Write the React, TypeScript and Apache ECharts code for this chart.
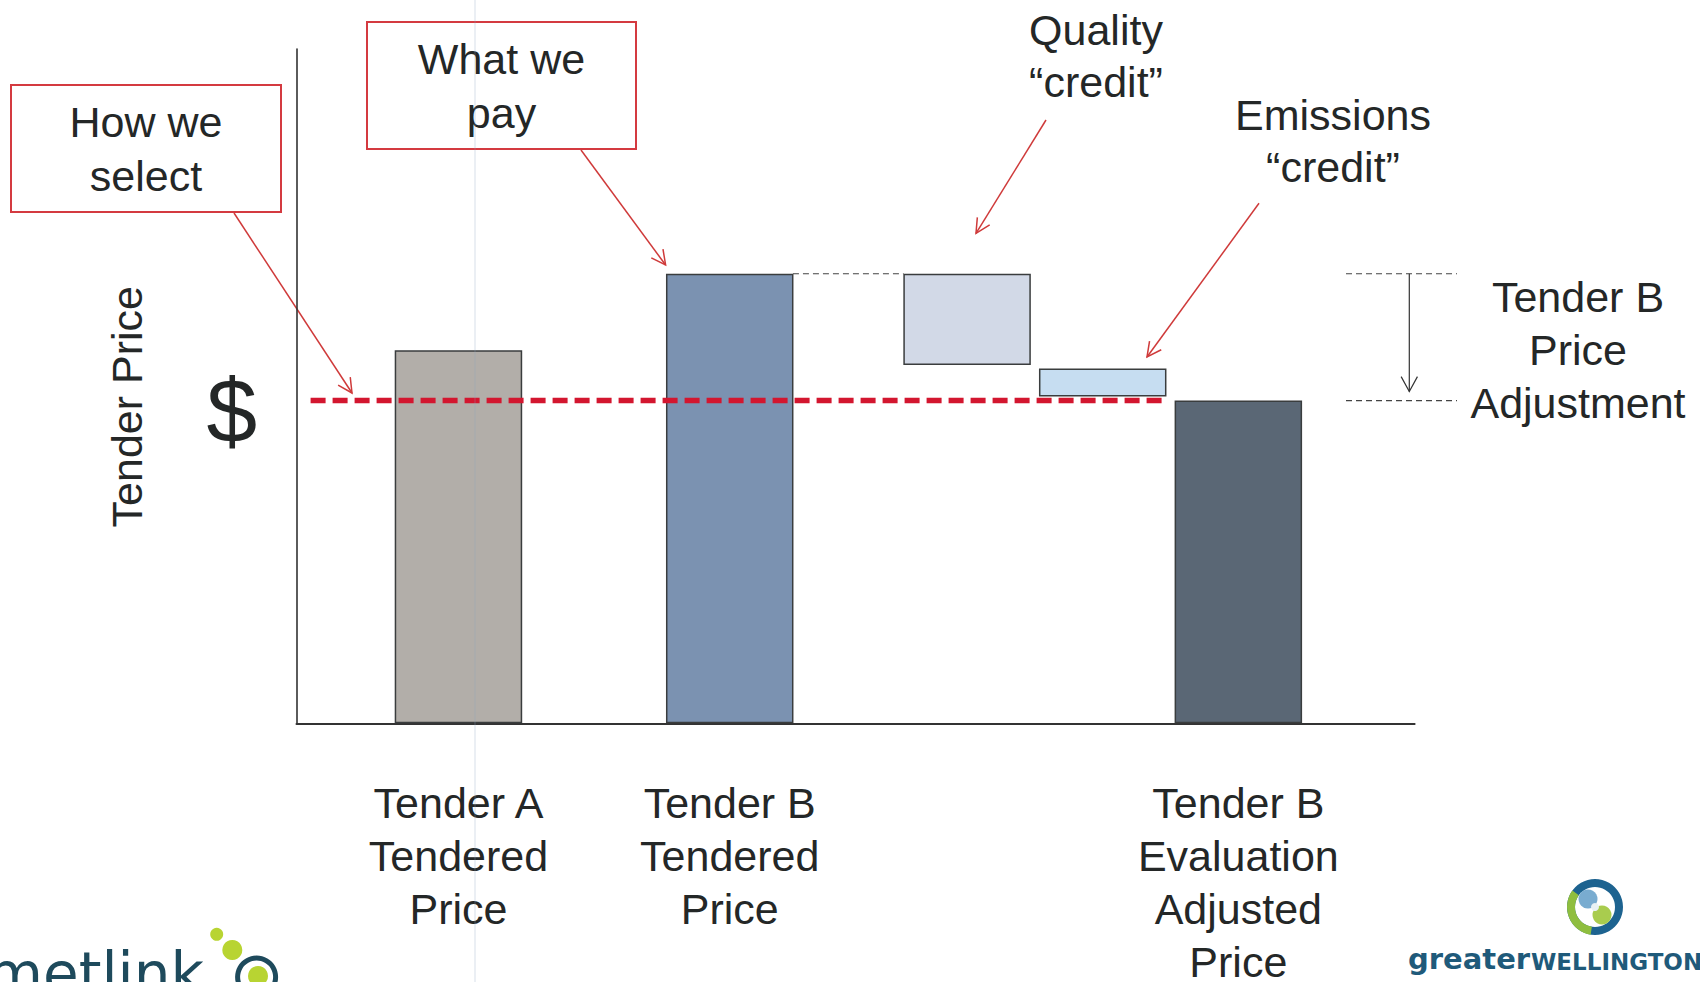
import React, { useEffect, useRef } from 'react';
import * as echarts from 'echarts';

// Waterfall columns, left to right.
const columns = [
  'Tender A\nTendered\nPrice',
  'Tender B\nTendered\nPrice',
  'Quality credit',
  'Emissions credit',
  'Tender B\nEvaluation\nAdjusted\nPrice',
];
// Bottom and top of each column, in price units.
const columnLow = [0, 0, 79.7, 72.7, 0];
const columnHigh = [83, 100, 100, 78.9, 71.8];

const tenderedB = columnHigh[1];
const evaluatedB = columnHigh[4];
const priceAxisMax = 150;

// ---- layout & styling ----
// The column grid is cut into narrow category slots; each column sits in one.
const SLOT_COUNT = 24;
const COLUMN_SLOT = [0, 8, 15, 19, 23];
const FILLS = ['#b2aea9', '#7b92b1', '#d2d9e7', '#c6ddf1', '#5a6775'];
const BORDER = '#3a3d3e';
const INK = '#242727';
const RED = '#d3162f';
const CALLOUT = '#d43a40';
const ARROW_RED = '#cf3a3a';
const FONT = "'Liberation Sans', Arial, Helvetica, sans-serif";

const FRAME = { left: 296.5, right: 285.4, top: 49, bottom: 258.7 };
const COLS = { left: 441.5, width: 813.8, top: 49, bottom: 258.7 };

function arrow(
  x1: number, y1: number, x2: number, y2: number,
  color: string, width: number, len = 16, spread = 0.47,
) {
  const a = Math.atan2(y2 - y1, x2 - x1);
  const p1 = [x2 - len * Math.cos(a - spread), y2 - len * Math.sin(a - spread)];
  const p2 = [x2 - len * Math.cos(a + spread), y2 - len * Math.sin(a + spread)];
  return [
    { type: 'line', shape: { x1, y1, x2, y2 }, style: { stroke: color, lineWidth: width } },
    {
      type: 'polyline',
      shape: { points: [p1, [x2, y2], p2] },
      style: { stroke: color, lineWidth: width, fill: 'none' },
    },
  ];
}

function label(text: string, x: number, y: number, size = 43, lineHeight = 53, extra: any = {}) {
  return {
    type: 'text',
    x,
    y,
    ...extra,
    style: {
      text,
      fill: INK,
      fontSize: size,
      fontFamily: FONT,
      lineHeight,
      align: 'center',
      verticalAlign: 'middle',
    },
  };
}

function staticGraphics(): any[] {
  return [
    // callout boxes
    {
      type: 'rect',
      shape: { x: 11, y: 85, width: 270, height: 127 },
      style: { stroke: CALLOUT, lineWidth: 2, fill: 'none' },
    },
    {
      type: 'rect',
      shape: { x: 367, y: 22, width: 269, height: 127 },
      style: { stroke: CALLOUT, lineWidth: 2, fill: 'none' },
    },
    label('How we\nselect', 146, 148.5, 43, 54),
    label('What we\npay', 501.5, 85.5, 43, 54),
    label('Quality\n\u201Ccredit\u201D', 1096, 56, 43, 52),
    label('Emissions\n\u201Ccredit\u201D', 1333, 141, 43, 52),
    label('Tender B\nPrice\nAdjustment', 1578, 350, 43, 53),
    label('Tender Price', 126.8, 406.7, 43, 50, { rotation: Math.PI / 2 }),
    label('$', 231.7, 410, 91, 100),
    // callout arrows
    ...arrow(234, 213, 352, 393, ARROW_RED, 1.5),
    ...arrow(581, 150, 665.6, 265, ARROW_RED, 1.5),
    ...arrow(1046, 120, 976, 233.3, ARROW_RED, 1.5),
    ...arrow(1259, 203.3, 1147, 357, ARROW_RED, 1.5),
    // metlink mark
    {
      type: 'text',
      x: 204,
      y: 974,
      style: {
        text: 'metlink',
        fill: '#1e4a5c',
        fontSize: 58,
        fontFamily: "'DejaVu Sans', sans-serif",
        align: 'right',
        verticalAlign: 'middle',
      },
    },
    { type: 'circle', shape: { cx: 216.7, cy: 934.3, r: 6.5 }, style: { fill: '#b8d432' } },
    { type: 'circle', shape: { cx: 232.3, cy: 950, r: 10 }, style: { fill: '#b8d432' } },
    { type: 'ring', shape: { cx: 256.6, cy: 977, r: 21.5, r0: 16.5 }, style: { fill: '#1e4a5c' } },
    { type: 'circle', shape: { cx: 258, cy: 976, r: 10 }, style: { fill: '#b8d432' } },
    // greater wellington mark
    { type: 'ring', shape: { cx: 1595, cy: 907, r: 28, r0: 20 }, style: { fill: '#1d6390' } },
    {
      type: 'sector',
      shape: { cx: 1595, cy: 907, r: 28, r0: 20, startAngle: 0.55 * Math.PI, endAngle: 1.2 * Math.PI },
      style: { fill: '#8fbe3f' },
    },
    { type: 'circle', shape: { cx: 1588, cy: 899, r: 9.5 }, style: { fill: '#79acd0' } },
    { type: 'circle', shape: { cx: 1602, cy: 915, r: 9.5 }, style: { fill: '#a9cc4e' } },
    { type: 'circle', shape: { cx: 1595, cy: 907, r: 4 }, style: { fill: '#e9f1f4' } },
    {
      type: 'text',
      x: 1408,
      y: 973,
      style: {
        text: 'greater',
        fill: '#1f5a7a',
        fontSize: 29,
        fontWeight: 'bold',
        fontFamily: "'DejaVu Sans', sans-serif",
        align: 'left',
        verticalAlign: 'bottom',
      },
    },
    {
      type: 'text',
      x: 1531,
      y: 973,
      style: {
        text: 'WELLINGTON',
        fill: '#1f5a7a',
        fontSize: 23,
        fontWeight: 'bold',
        fontFamily: "'DejaVu Sans', sans-serif",
        align: 'left',
        verticalAlign: 'bottom',
      },
    },
    // faint vertical rule across the page
    {
      type: 'line',
      z: 100,
      shape: { x1: 475, y1: 0, x2: 475, y2: 982 },
      style: { stroke: 'rgba(140,160,190,0.35)', lineWidth: 1 },
    },
  ];
}

function buildOption(): any {
  // Spread the columns over the slot grid; unused slots stay empty.
  const slotNames: string[] = Array.from({ length: SLOT_COUNT }, () => '');
  const base: any[] = Array.from({ length: SLOT_COUNT }, () => '-');
  const span: any[] = Array.from({ length: SLOT_COUNT }, () => '-');
  columns.forEach((name, i) => {
    const s = COLUMN_SLOT[i];
    slotNames[s] = name;
    base[s] = columnLow[i];
    span[s] = {
      value: +(columnHigh[i] - columnLow[i]).toFixed(2),
      itemStyle: { color: FILLS[i], borderColor: BORDER, borderWidth: 1.5 },
    };
  });

  const guideStyle = { color: '#444', width: 1.2, type: [6, 4] };

  return {
    animation: false,
    backgroundColor: '#ffffff',
    grid: [
      { ...FRAME, containLabel: false, outerBoundsMode: 'none' },
      { ...COLS, containLabel: false, outerBoundsMode: 'none' },
    ],
    xAxis: [
      {
        gridIndex: 0,
        type: 'value',
        min: 0,
        max: 100,
        axisLine: { show: true, lineStyle: { color: '#333', width: 2 } },
        axisTick: { show: false },
        axisLabel: { show: false },
        splitLine: { show: false },
      },
      {
        gridIndex: 1,
        type: 'category',
        data: slotNames,
        axisLine: { show: false },
        axisTick: { show: false },
        splitLine: { show: false },
        axisLabel: {
          interval: 0,
          margin: 53,
          color: INK,
          fontSize: 43,
          lineHeight: 53,
          fontFamily: FONT,
          align: 'center',
          formatter: (v: string) => (v.includes('credit') ? '' : v),
        },
      },
    ],
    yAxis: [
      {
        gridIndex: 0,
        type: 'value',
        min: 0,
        max: priceAxisMax,
        axisLine: { show: true, lineStyle: { color: '#333', width: 1.6 } },
        axisTick: { show: false },
        axisLabel: { show: false },
        splitLine: { show: false },
      },
      {
        gridIndex: 1,
        type: 'value',
        min: 0,
        max: priceAxisMax,
        show: false,
        splitLine: { show: false },
      },
    ],
    series: [
      {
        name: 'base',
        type: 'bar',
        xAxisIndex: 1,
        yAxisIndex: 1,
        stack: 'waterfall',
        barWidth: 127.5,
        clip: false,
        silent: true,
        itemStyle: { color: 'rgba(0,0,0,0)', borderWidth: 0 },
        data: base,
      },
      {
        name: 'price',
        type: 'bar',
        xAxisIndex: 1,
        yAxisIndex: 1,
        stack: 'waterfall',
        barWidth: 127.5,
        clip: false,
        data: span,
      },
      {
        name: 'selection level',
        type: 'line',
        xAxisIndex: 0,
        yAxisIndex: 0,
        z: 5,
        symbol: 'none',
        lineStyle: { color: RED, width: 5.5, type: [15, 7] },
        data: [[1.26, evaluatedB], [77.86, evaluatedB]],
      },
      {
        name: 'tendered B connector',
        type: 'line',
        xAxisIndex: 0,
        yAxisIndex: 0,
        symbol: 'none',
        lineStyle: guideStyle,
        data: [[44.4, tenderedB], [54.3, tenderedB]],
      },
    ],
    graphic: staticGraphics(),
  };
}

export default function App() {
  const ref = useRef<HTMLDivElement>(null);
  useEffect(() => {
    if (!ref.current) return;
    const chart = echarts.init(ref.current, undefined, { renderer: 'svg' });
    chart.setOption(buildOption());

    // Price adjustment bracket to the right of the plot, placed on the price scale.
    const yTop = chart.convertToPixel({ gridIndex: 0 }, [0, tenderedB])[1];
    const yLow = chart.convertToPixel({ gridIndex: 0 }, [0, evaluatedB])[1];
    const dash = { stroke: '#444', lineWidth: 1.2, lineDash: [6, 4] };
    chart.setOption({
      graphic: [
        ...staticGraphics(),
        { type: 'line', shape: { x1: 1346, y1: yTop, x2: 1457, y2: yTop }, style: dash },
        { type: 'line', shape: { x1: 1346, y1: yLow, x2: 1457, y2: yLow }, style: dash },
        ...arrow(1409.3, yTop, 1409.3, yLow - 9, '#333', 1.2, 17, 0.5),
      ],
    });
    return () => chart.dispose();
  }, []);
  return (
    <div
      ref={ref}
      style={{ position: 'fixed', left: 0, top: 0, width: 1700, height: 982, background: '#fff' }}
    />
  );
}
